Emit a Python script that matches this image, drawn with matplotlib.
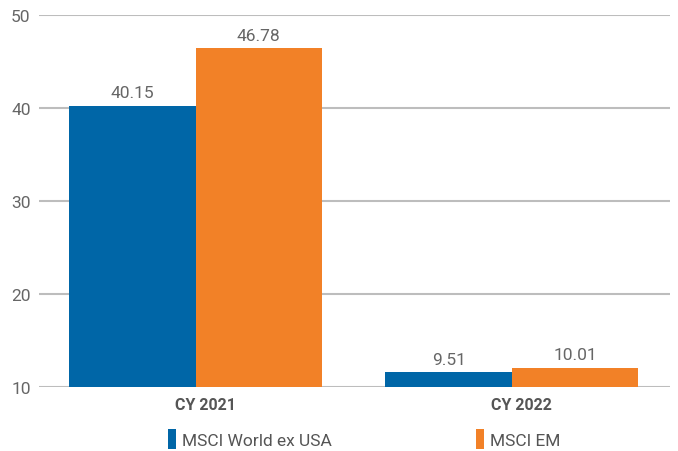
import matplotlib
matplotlib.use("Agg")
import matplotlib.pyplot as plt
from matplotlib.patches import Patch
import numpy as np

categories = ["CY 2021", "CY 2022"]
series_names = ["MSCI World ex USA", "MSCI EM"]
world_ex_usa = [40.15, 9.51]
msci_em = [46.78, 10.01]
y_ticks = [10, 20, 30, 40, 50]

blue = "#0066A7"
orange = "#F28127"
grid_c = "#BDBDBD"
text_c = "#666666"

plt.rcParams['font.family'] = ['Roboto', 'DejaVu Sans']

fig = plt.figure(figsize=(6.78, 4.52), dpi=100)
W, H = 678, 452
left, right, top, bottom = 39, 670, 15.7, 388
ax = fig.add_axes([left / W, 1 - bottom / H, (right - left) / W, (bottom - top) / H])

# grid / tick axis
ax.set_ylim(10, 50)
ax.set_yticks(y_ticks)
ax.yaxis.grid(True, color=grid_c, linewidth=1.5)
ax.tick_params(axis='y', length=0, pad=6, labelsize=12.5, labelcolor=text_c)
ax.tick_params(axis='x', length=0, pad=7)
for s in ax.spines.values():
    s.set_visible(False)
ax.set_axisbelow(True)

x = np.arange(len(categories))
ax.set_xlim(-0.495, 1.5)
ax.set_xticks(x + 0.03)
ax.set_xticklabels(categories, fontsize=11.5, fontweight='bold', color="#555555")

# bar axis (the reference draws bars on its own value scale)
axb = ax.twinx()
axb.set_ylim(7.79, 50.64)
axb.set_yticks([])
for s in axb.spines.values():
    s.set_visible(False)
axb.patch.set_visible(False)

w = 0.4
b1 = axb.bar(x - w / 2, world_ex_usa, width=w, color=blue, label=series_names[0])
b2 = axb.bar(x + w / 2, msci_em, width=w, color=orange, label=series_names[1])
for bars, vals in ((b1, world_ex_usa), (b2, msci_em)):
    for r, v in zip(bars, vals):
        axb.annotate(f"{v:.2f}", (r.get_x() + r.get_width() / 2, v),
                     xytext=(0, 4), textcoords='offset points',
                     ha='center', va='bottom', fontsize=12.5, color=text_c)

handles = [Patch(facecolor=blue), Patch(facecolor=orange)]
leg = fig.legend(handles, series_names, loc='center left',
                 bbox_to_anchor=(168 / W, 1 - 440 / H), ncol=2, frameon=False,
                 handlelength=0.45, handleheight=1.4, handletextpad=0.35,
                 columnspacing=8.3, fontsize=12.5, borderaxespad=0, borderpad=0)
for t in leg.get_texts():
    t.set_color("#555555")

fig.savefig("out.png", dpi=100)
